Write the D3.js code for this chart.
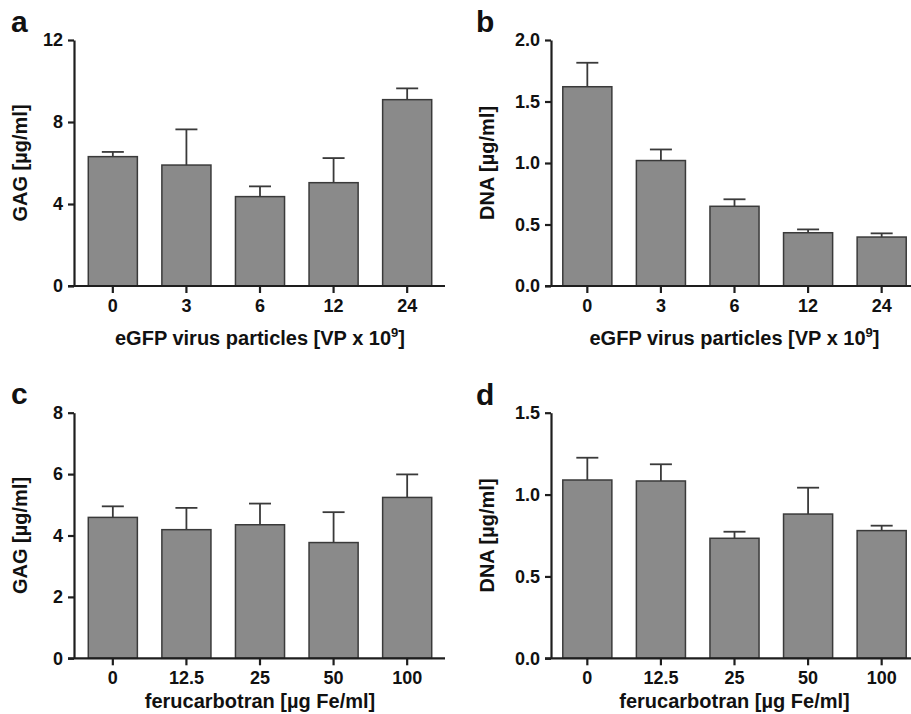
<!DOCTYPE html>
<html>
<head>
<meta charset="utf-8">
<script src="https://cdn.jsdelivr.net/npm/d3@7"></script>
<style>
  body { margin: 0; background: #fff; }
  text { font-family: "Liberation Sans", Arial, sans-serif; font-weight: bold; fill: #111; }
</style>
</head>
<body>
<div id="chart"></div>
<script>
// categories
const virusDose = ['0', '3', '6', '12', '24']
const feDose = ['0', '12.5', '25', '50', '100']

// means and upper error (SD)
const gagVirus = [6.31, 5.90, 4.36, 5.04, 9.09]
const gagVirusErr = [0.23, 1.74, 0.50, 1.20, 0.55]
const dnaVirus = [1.62, 1.02, 0.648, 0.433, 0.398]
const dnaVirusErr = [0.195, 0.09, 0.057, 0.027, 0.03]
const gagFe = [4.59, 4.19, 4.35, 3.77, 5.24]
const gagFeErr = [0.36, 0.71, 0.69, 0.99, 0.75]
const dnaFe = [1.089, 1.083, 0.733, 0.881, 0.78]
const dnaFeErr = [0.136, 0.102, 0.04, 0.161, 0.03]

// tick values
const gagVirusTicks = [0, 4, 8, 12]
const dnaTicks2 = [0, 0.5, 1.0, 1.5, 2.0]
const gagFeTicks = [0, 2, 4, 6, 8]
const dnaTicks15 = [0, 0.5, 1.0, 1.5]

const panels = [
  { letter: 'a', cats: virusDose, vals: gagVirus, errs: gagVirusErr, ticks: gagVirusTicks, fmt: d3.format('d'),
    yTitle: 'GAG [µg/ml]', xTitle: 'virus', axisX: 74, top: 40, bottom: 286, bandStart: 76, titleX: 27, letterY: 32, xTitleY: 345 },
  { letter: 'b', cats: virusDose, vals: dnaVirus, errs: dnaVirusErr, ticks: dnaTicks2, fmt: d3.format('.1f'),
    yTitle: 'DNA [µg/ml]', xTitle: 'virus', axisX: 551, top: 40, bottom: 286, bandStart: 550.5, titleX: 494, letterY: 32, xTitleY: 345 },
  { letter: 'c', cats: feDose, vals: gagFe, errs: gagFeErr, ticks: gagFeTicks, fmt: d3.format('d'),
    yTitle: 'GAG [µg/ml]', xTitle: 'fe', axisX: 74, top: 412.7, bottom: 658.3, bandStart: 76, titleX: 27, letterY: 404, xTitleY: 708 },
  { letter: 'd', cats: feDose, vals: dnaFe, errs: dnaFeErr, ticks: dnaTicks15, fmt: d3.format('.1f'),
    yTitle: 'DNA [µg/ml]', xTitle: 'fe', axisX: 551, top: 412.7, bottom: 658.3, bandStart: 550.5, titleX: 494, letterY: 405, xTitleY: 708 },
]

const bandSpan = 368
const axisColor = '#1e1e1e'
const barFill = '#8a8a8a'
const barStroke = '#3a3a3a'

const svg = d3.select('#chart')
  .append('svg')
    .attr('width', 911)
    .attr('height', 714)

panels.forEach(p => {
  const g = svg.append('g')

  const xScale = d3.scaleBand()
    .domain(p.cats)
    .range([p.bandStart, p.bandStart + bandSpan])
    .paddingInner(0.333)
    .paddingOuter(0.167)

  const yScale = d3.scaleLinear()
    .domain([0, d3.max(p.ticks)])
    .range([p.bottom, p.top])

  // bars
  g.selectAll('rect.bar')
    .data(p.vals)
    .join('rect')
      .attr('class', 'bar')
      .attr('x', (d, i) => xScale(p.cats[i]))
      .attr('y', d => yScale(d))
      .attr('width', xScale.bandwidth())
      .attr('height', d => yScale(0) - yScale(d))
      .attr('fill', barFill)
      .attr('stroke', barStroke)
      .attr('stroke-width', 1.5)

  // upper error bars
  const cx = i => xScale(p.cats[i]) + xScale.bandwidth() / 2
  g.selectAll('line.err')
    .data(p.vals)
    .join('line')
      .attr('class', 'err')
      .attr('x1', (d, i) => cx(i))
      .attr('x2', (d, i) => cx(i))
      .attr('y1', d => yScale(d))
      .attr('y2', (d, i) => yScale(d + p.errs[i]))
      .attr('stroke', barStroke)
      .attr('stroke-width', 1.8)
  g.selectAll('line.cap')
    .data(p.vals)
    .join('line')
      .attr('class', 'cap')
      .attr('x1', (d, i) => cx(i) - 11)
      .attr('x2', (d, i) => cx(i) + 11)
      .attr('y1', (d, i) => yScale(d + p.errs[i]))
      .attr('y2', (d, i) => yScale(d + p.errs[i]))
      .attr('stroke', barStroke)
      .attr('stroke-width', 1.8)

  // y axis
  const yAxis = d3.axisLeft(yScale)
    .tickValues(p.ticks)
    .tickFormat(p.fmt)
    .tickSize(6)
    .tickSizeOuter(0)
    .tickPadding(5)
  const yAxisGroup = g.append('g')
    .attr('transform', `translate(${p.axisX},0)`)
    .call(yAxis)
  yAxisGroup.select('.domain').attr('stroke', axisColor).attr('stroke-width', 2.2)
  yAxisGroup.selectAll('.tick line').attr('stroke', axisColor).attr('stroke-width', 2.2)
  yAxisGroup.selectAll('.tick text')
    .attr('fill', '#111')
    .style('font-size', '18px')

  // x axis
  const xAxis = d3.axisBottom(xScale)
    .tickSize(7)
    .tickSizeOuter(0)
    .tickPadding(6)
  const xAxisGroup = g.append('g')
    .attr('transform', `translate(0,${p.bottom})`)
    .call(xAxis)
  xAxisGroup.select('.domain').remove()
  xAxisGroup.append('line')
    .attr('x1', p.axisX - 6)
    .attr('x2', p.bandStart + bandSpan + 1)
    .attr('stroke', axisColor)
    .attr('stroke-width', 2.2)
  xAxisGroup.selectAll('.tick line').attr('stroke', axisColor).attr('stroke-width', 2.2)
  xAxisGroup.selectAll('.tick text')
    .attr('fill', '#111')
    .style('font-size', '18px')

  // x title
  const midX = p.bandStart + bandSpan / 2
  const xt = g.append('text')
    .attr('x', midX)
    .attr('y', p.xTitleY)
    .attr('text-anchor', 'middle')
    .style('font-size', '20px')
  if (p.xTitle === 'virus') {
    xt.append('tspan').text('eGFP virus particles [VP x 10')
    xt.append('tspan').attr('dy', -8).style('font-size', '13px').text('9')
    xt.append('tspan').attr('dy', 8).text(']')
  } else {
    xt.text('ferucarbotran [µg Fe/ml]')
  }

  // y title
  g.append('text')
    .attr('transform', `translate(${p.titleX},${(p.top + p.bottom) / 2}) rotate(-90)`)
    .attr('text-anchor', 'middle')
    .style('font-size', '20px')
    .text(p.yTitle)

  // panel letter
  g.append('text')
    .attr('x', p.axisX < 300 ? 11 : 476)
    .attr('y', p.letterY)
    .style('font-size', '30px')
    .text(p.letter)
})
</script>
</body>
</html>
